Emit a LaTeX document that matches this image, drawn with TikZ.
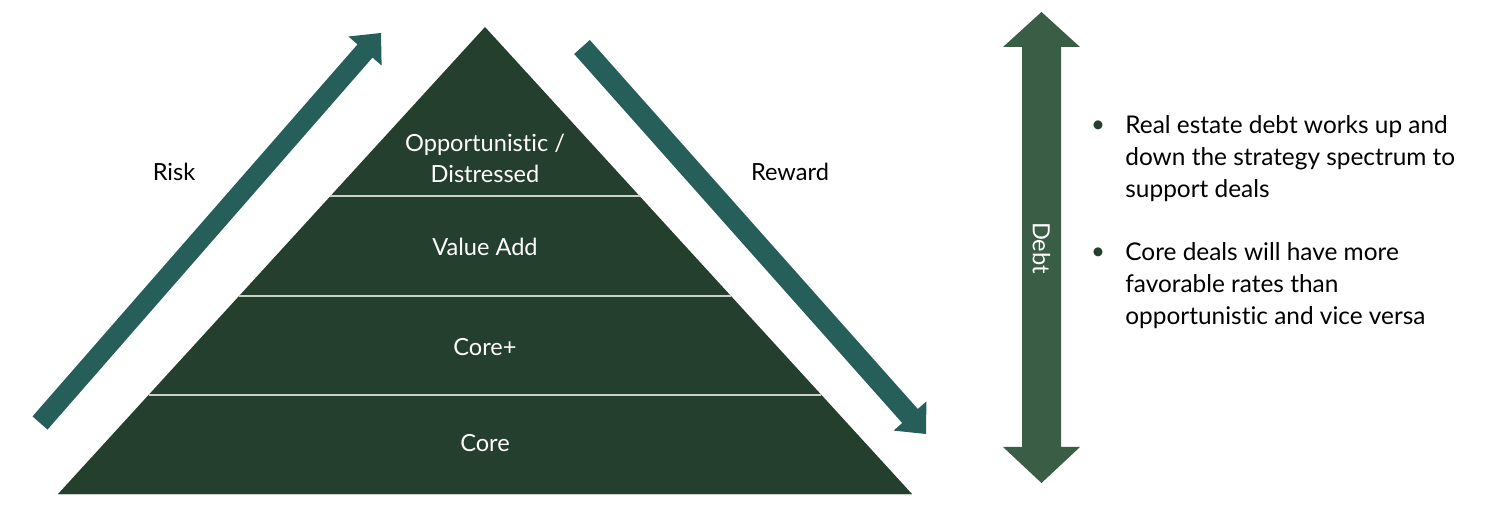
\documentclass[tikz,border=0pt]{standalone}
\usepackage{fontspec}
\setmainfont{Lato}[Ligatures={NoCommon}]
\definecolor{pyrgreen}{HTML}{253F2F}
\definecolor{arrteal}{HTML}{265E5A}
\definecolor{debtgreen}{HTML}{3A5E45}
\definecolor{divline}{HTML}{C9D2C9}
\begin{document}
\begin{tikzpicture}[x=0.5pt,y=-0.5pt,
  tierlabel/.style={text=white,font=\fontsize{11.8}{15.5}\selectfont,align=center},
  sidelabel/.style={text=black,font=\fontsize{11.8}{15}\selectfont},
  bullettext/.style={text=black,font=\fontsize{12.2}{16}\selectfont,align=left,anchor=west,inner sep=0pt},
  bulletdot/.style={text=pyrgreen,font=\fontsize{12}{16}\selectfont,inner sep=0pt},
  divider/.style={draw=divline,line width=0.8pt}]
\useasboundingbox (0,0) rectangle (1488,512);

% pyramid
\fill[pyrgreen] (485,27) -- (912,494) -- (58,494) -- cycle;
\draw[divider] (330,196) -- (640,196);
\draw[divider] (239,296) -- (731,296);
\draw[divider] (149,395) -- (821,395);
\draw[divider] (58,494.5) -- (912,494.5);

\node[tierlabel] (opp) at (485,158) {Opportunistic /\\Distressed};
\node[tierlabel] (va) at (485,247) {Value Add};
\node[tierlabel] (cp) at (485,347) {Core+};
\node[tierlabel] (core) at (485,443) {Core};

% risk arrow
\fill[arrteal] (32.5,416.4) -- (357.5,44.4) -- (348.4,36.5) -- (381,33) -- (381.6,65.5) -- (372.5,57.6) -- (47.5,429.6) -- cycle;
% reward arrow
\fill[arrteal] (574.2,54) -- (902.2,423) -- (893.6,430.6) -- (926,434) -- (926.4,401.4) -- (917.8,409) -- (589.8,40) -- cycle;

\node[sidelabel] (risk) at (174,172) {Risk};
\node[sidelabel] (reward) at (790,172) {Reward};

% debt arrow
\fill[debtgreen] (1041.5,12) -- (1080,47) -- (1061,47) -- (1061,447) -- (1080,447) -- (1041.5,483) -- (1003,447) -- (1022,447) -- (1022,47) -- (1003,47) -- cycle;
\node[text=white,font=\fontsize{11.8}{15}\selectfont,rotate=-90] (debt) at (1041.5,248) {Debt};

% bullets
\node[bulletdot] (b1) at (1098,127) {•};
\node[bullettext] (t1) at (1125,159) {Real estate debt works up and\\down the strategy spectrum to\\support deals};
\node[bulletdot] (b2) at (1098,254) {•};
\node[bullettext] (t2) at (1125,286) {Core deals will have more\\favorable rates than\\opportunistic and vice versa};
\end{tikzpicture}
\end{document}
